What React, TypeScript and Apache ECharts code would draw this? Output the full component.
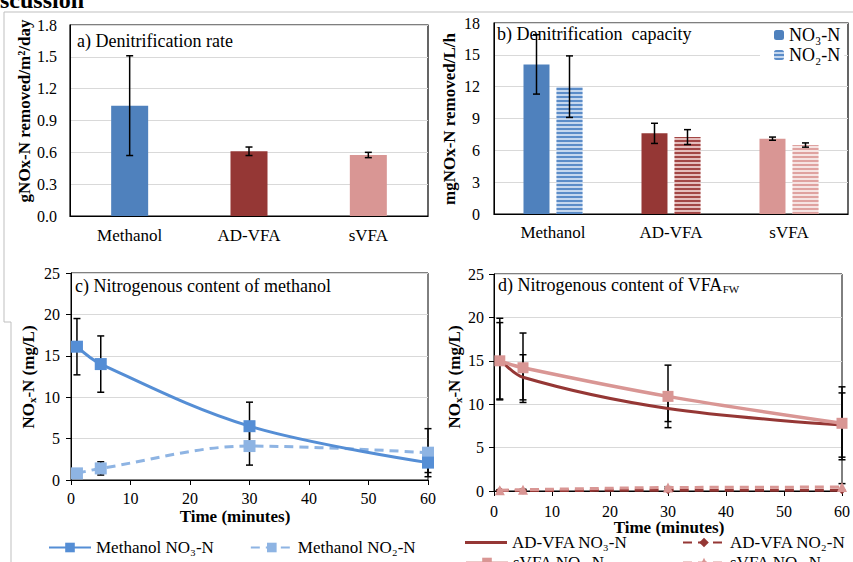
import React, { useEffect, useRef } from "react";
import * as echarts from "echarts";

// ---------- data ----------
const barCategories = ["Methanol", "AD-VFA", "sVFA"];
const barColors = ["#4F81BD", "#953735", "#D99694"];
const stripeBase = ["#C5D7EE", "#E4BDBC", "#F6E4E3"];
const stripeColors = ["#5B8CC8", "#A24645", "#DFA2A0"];

const rateValues = [1.04, 0.61, 0.575];
const rateErrors = [0.47, 0.04, 0.025];

const capNO3Values = [14.1, 7.6, 7.1];
const capNO3Errors = [2.8, 0.95, 0.15];
const capNO2Values = [12.0, 7.25, 6.5];
const capNO2Errors = [2.9, 0.7, 0.2];

const timePoints = [1, 5, 30, 60];
const methNO3 = [16.1, 14.0, 6.5, 2.1];
const methNO3Err = [3.4, 3.4, 2.9, 1.2];
const methNO2 = [0.8, 1.4, 4.1, 3.3];
const methNO2Err = [0.3, 0.8, 2.3, 2.9];

const adNO3 = [15.2, 13.1, 9.5, 7.6];
const adNO3Err = [4.7, 2.6, 1.5, 3.7];
const sNO3 = [15.0, 14.2, 10.9, 7.8];
const sNO3Err = [4.4, 4.0, 3.6, 4.2];
const adNO2 = [0.05, 0.05, 0.1, 0.1];
const sNO2 = [0.1, 0.15, 0.4, 0.45];
const sNO2Err = [0.05, 0.05, 0.1, 0.4];

const FONT = "'Liberation Serif', 'Times New Roman', serif";

const errData = (xs: number[], vals: number[], errs: number[]) =>
  vals.map((v, i) => [xs[i], v - errs[i], v + errs[i]]);

const errRender = (offset: number, cap: number) => (params: any, api: any) => {
  const x = api.value(0);
  const lo = api.coord([x, api.value(1)]);
  const hi = api.coord([x, api.value(2)]);
  const cx = lo[0] + offset;
  const style = { stroke: "#000", lineWidth: 1.5, fill: "none" };
  return {
    type: "group",
    children: [
      { type: "line", shape: { x1: cx, y1: lo[1], x2: cx, y2: hi[1] }, style },
      { type: "line", shape: { x1: cx - cap, y1: lo[1], x2: cx + cap, y2: lo[1] }, style },
      { type: "line", shape: { x1: cx - cap, y1: hi[1], x2: cx + cap, y2: hi[1] }, style },
    ],
  };
};

const stripeDecal = (color: string) => ({
  symbol: "rect",
  symbolSize: 1,
  dashArrayX: [1, 0],
  dashArrayY: [1.5, 1.5],
  rotation: 0,
  color,
});

const catX = (gi: number, margin: number) => ({
  type: "category",
  gridIndex: gi,
  data: barCategories,
  axisLine: { show: true, lineStyle: { color: "#000", width: 1 } },
  axisTick: { show: false },
  axisLabel: { color: "#000", fontSize: 17, fontFamily: FONT, margin },
});

const valX = (gi: number, margin: number) => ({
  type: "value",
  gridIndex: gi,
  min: 0,
  max: 60,
  interval: 10,
  axisLine: { show: true, lineStyle: { color: "#000", width: 1 } },
  axisTick: { show: true, length: 5, lineStyle: { color: "#000" } },
  splitLine: { show: false },
  axisLabel: { color: "#000", fontSize: 16, fontFamily: FONT, margin },
});

const valY = (gi: number, max: number, interval: number, margin: number, fontSize: number, ticks: boolean, fmt?: (v: number) => string) => ({
  type: "value",
  gridIndex: gi,
  min: 0,
  max,
  interval,
  axisLine: { show: true, lineStyle: { color: "#000", width: 1 } },
  axisTick: { show: ticks, length: 5, lineStyle: { color: "#000" } },
  splitLine: { show: true, lineStyle: { color: "#D9D9D9", width: 1 } },
  axisLabel: { color: "#000", fontSize, fontFamily: FONT, margin, formatter: fmt },
});

const legendText = (size: number) => ({ color: "#000", fontSize: size, fontFamily: FONT });

const oneLegend = (name: string, left: number, top: number, extra: any = {}) => ({
  data: [name],
  left,
  top,
  itemWidth: 42,
  itemHeight: 12,
  padding: 0,
  textStyle: legendText(17),
  ...extra,
});

const rotText = (x: number, y: number, text: string, rich?: any) => ({
  type: "text",
  x,
  y,
  rotation: Math.PI / 2,
  style: {
    text,
    fill: "#000",
    fontSize: 17,
    fontWeight: "bold",
    fontFamily: FONT,
    align: "center",
    verticalAlign: "middle",
    rich,
  },
});

const plainText = (x: number, y: number, text: string, size: number, bold = false, align = "left", rich?: any) => ({
  type: "text",
  x,
  y,
  style: {
    text,
    fill: "#000",
    fontSize: size,
    fontWeight: bold ? "bold" : "normal",
    fontFamily: FONT,
    align,
    verticalAlign: "middle",
    rich,
  },
});

const subRich = (size: number, bold: boolean) => ({
  n: { fontSize: size, fontWeight: bold ? "bold" : "normal", fontFamily: FONT, fill: "#000", lineHeight: 22, verticalAlign: "bottom" },
  s: { fontSize: Math.round(size * 0.62), fontWeight: bold ? "bold" : "normal", fontFamily: FONT, fill: "#000", lineHeight: 10, verticalAlign: "bottom" },
});

export default function App() {
  const ref = useRef<HTMLDivElement>(null);

  useEffect(() => {
    if (!ref.current) return;
    const chart = echarts.init(ref.current, null, { renderer: "svg" });

    const option: any = {
      animation: false,
      backgroundColor: "#fff",
      textStyle: { fontFamily: FONT },
      grid: [
        { left: 70, top: 25, width: 358, height: 191, show: true, borderColor: "#000", borderWidth: 1.2, backgroundColor: "transparent" },
        { left: 494, top: 23, width: 354, height: 191, show: true, borderColor: "#000", borderWidth: 1.2, backgroundColor: "transparent" },
        { left: 71, top: 273, width: 357, height: 207, show: true, borderColor: "#000", borderWidth: 1, backgroundColor: "transparent" },
        { left: 494, top: 274, width: 359, height: 217, show: true, borderColor: "#000", borderWidth: 1, backgroundColor: "transparent" },
      ],
      xAxis: [catX(0, 11), catX(1, 10), valX(2, 10), valX(3, 12)],
      yAxis: [
        valY(0, 1.8, 0.3, 13, 16, false, (v: number) => v.toFixed(1)),
        valY(1, 18, 3, 14, 16, false),
        valY(2, 25, 5, 11, 16, true),
        valY(3, 25, 5, 10, 16, true),
      ],
      legend: [
        {
          data: ["NO₃-N", "NO₂-N"],
          orient: "vertical",
          left: 760,
          top: 24,
          itemWidth: 10,
          itemHeight: 10,
          itemGap: 2,
          padding: [2, 4, 2, 14],
          backgroundColor: "#fff",
          textStyle: legendText(18),
        },
        {
          data: ["Methanol NO₃-N", "Methanol NO₂-N"],
          orient: "horizontal",
          left: 48,
          top: 539,
          itemWidth: 42,
          itemHeight: 12,
          itemGap: 36,
          padding: 0,
          textStyle: legendText(17),
        },
        oneLegend("AD-VFA NO₃-N", 465, 534, { icon: "rect", itemHeight: 3 }),
        oneLegend("AD-VFA NO₂-N", 682, 534),
        oneLegend("sVFA NO₃-N", 465, 554),
        oneLegend("sVFA NO₂-N", 682, 554),
      ],
      series: [
        // a) rate bars
        {
          type: "bar",
          name: "rate",
          xAxisIndex: 0,
          yAxisIndex: 0,
          barWidth: 37,
          data: rateValues.map((v, i) => ({ value: v, itemStyle: { color: barColors[i] } })),
        },
        {
          type: "custom",
          xAxisIndex: 0,
          yAxisIndex: 0,
          z: 5,
          renderItem: errRender(0, 3.5),
          encode: { x: 0, y: [1, 2] },
          data: errData([0, 1, 2], rateValues, rateErrors),
        },
        // b) capacity bars
        {
          type: "bar",
          name: "NO₃-N",
          xAxisIndex: 1,
          yAxisIndex: 1,
          barWidth: 26,
          barGap: "27%",
          itemStyle: { color: barColors[0] },
          data: capNO3Values.map((v, i) => ({ value: v, itemStyle: { color: barColors[i] } })),
        },
        {
          type: "bar",
          name: "NO₂-N",
          xAxisIndex: 1,
          yAxisIndex: 1,
          barWidth: 26,
          barGap: "27%",
          itemStyle: { color: stripeBase[0], decal: stripeDecal(stripeColors[0]) },
          data: capNO2Values.map((v, i) => ({
            value: v,
            itemStyle: { color: stripeBase[i], decal: stripeDecal(stripeColors[i]) },
          })),
        },
        {
          type: "custom",
          xAxisIndex: 1,
          yAxisIndex: 1,
          z: 5,
          renderItem: errRender(-16.5, 3.5),
          encode: { x: 0, y: [1, 2] },
          data: errData([0, 1, 2], capNO3Values, capNO3Errors),
        },
        {
          type: "custom",
          xAxisIndex: 1,
          yAxisIndex: 1,
          z: 5,
          renderItem: errRender(16.5, 3.5),
          encode: { x: 0, y: [1, 2] },
          data: errData([0, 1, 2], capNO2Values, capNO2Errors),
        },
        // c) methanol lines
        {
          type: "custom",
          xAxisIndex: 2,
          yAxisIndex: 2,
          z: 1,
          renderItem: errRender(0, 3.5),
          encode: { x: 0, y: [1, 2] },
          data: errData(timePoints, methNO3, methNO3Err),
        },
        {
          type: "custom",
          xAxisIndex: 2,
          yAxisIndex: 2,
          z: 1,
          renderItem: errRender(0, 3.5),
          encode: { x: 0, y: [1, 2] },
          data: errData(timePoints, methNO2, methNO2Err),
        },
        {
          type: "line",
          name: "Methanol NO₃-N",
          xAxisIndex: 2,
          yAxisIndex: 2,
          z: 3,
          smooth: 0.35,
          symbol: "rect",
          symbolSize: 12,
          lineStyle: { color: "#558ED5", width: 3 },
          itemStyle: { color: "#558ED5" },
          data: timePoints.map((t, i) => [t, methNO3[i]]),
        },
        {
          type: "line",
          name: "Methanol NO₂-N",
          xAxisIndex: 2,
          yAxisIndex: 2,
          z: 2,
          smooth: 0.35,
          symbol: "rect",
          symbolSize: 12,
          lineStyle: { color: "#8EB4E3", width: 3, type: [9, 6] },
          itemStyle: { color: "#8EB4E3" },
          data: timePoints.map((t, i) => [t, methNO2[i]]),
        },
        // d) VFA lines
        {
          type: "custom",
          xAxisIndex: 3,
          yAxisIndex: 3,
          z: 1,
          renderItem: errRender(0, 3.5),
          encode: { x: 0, y: [1, 2] },
          data: errData(timePoints, adNO3, adNO3Err),
        },
        {
          type: "custom",
          xAxisIndex: 3,
          yAxisIndex: 3,
          z: 1,
          renderItem: errRender(0, 3.5),
          encode: { x: 0, y: [1, 2] },
          data: errData(timePoints, sNO3, sNO3Err),
        },
        {
          type: "custom",
          xAxisIndex: 3,
          yAxisIndex: 3,
          z: 1,
          renderItem: errRender(0, 3.5),
          encode: { x: 0, y: [1, 2] },
          data: errData(timePoints, sNO2, sNO2Err),
        },
        {
          type: "line",
          name: "AD-VFA NO₃-N",
          xAxisIndex: 3,
          yAxisIndex: 3,
          z: 3,
          smooth: 0.35,
          symbol: "none",
          lineStyle: { color: "#953735", width: 3 },
          itemStyle: { color: "#953735" },
          data: timePoints.map((t, i) => [t, adNO3[i]]),
        },
        {
          type: "line",
          name: "AD-VFA NO₂-N",
          xAxisIndex: 3,
          yAxisIndex: 3,
          z: 2,
          smooth: 0.35,
          symbol: "diamond",
          symbolSize: 8,
          lineStyle: { color: "#953735", width: 3, type: [9, 6] },
          itemStyle: { color: "#953735" },
          data: timePoints.map((t, i) => [t, adNO2[i]]),
        },
        {
          type: "line",
          name: "sVFA NO₃-N",
          xAxisIndex: 3,
          yAxisIndex: 3,
          z: 4,
          smooth: 0.35,
          symbol: "rect",
          symbolSize: 11,
          lineStyle: { color: "#D99694", width: 3.5 },
          itemStyle: { color: "#D99694" },
          data: timePoints.map((t, i) => [t, sNO3[i]]),
        },
        {
          type: "line",
          name: "sVFA NO₂-N",
          xAxisIndex: 3,
          yAxisIndex: 3,
          z: 3,
          smooth: 0.35,
          symbol: "triangle",
          symbolSize: 10,
          lineStyle: { color: "#D99694", width: 3, type: [9, 6] },
          itemStyle: { color: "#D99694" },
          data: timePoints.map((t, i) => [t, sNO2[i]]),
        },
      ],
      graphic: [
        { type: "polyline", shape: { points: [[4, 12], [853, 12]] }, style: { stroke: "#BFBFBF", lineWidth: 1, fill: "none" } },
        { type: "polyline", shape: { points: [[4, 12], [4, 322], [11, 322], [11, 562]] }, style: { stroke: "#BFBFBF", lineWidth: 1, fill: "none" } },
        plainText(0, 0, "scussion", 24, true),
        plainText(77, 41, "a) Denitrification rate", 18),
        plainText(497, 34, "b) Denitrification  capacity", 18),
        plainText(75, 286, "c) Nitrogenous content of methanol", 18),
        plainText(498, 283, "{n|d) Nitrogenous content of VFA}{s|FW}", 18, false, "left", subRich(18, false)),
        rotText(24.5, 111, "gNOx-N removed/m²/day"),
        rotText(449.5, 119, "mgNOx-N removed/L/h"),
        rotText(26, 377, "{n|NO}{s|x}{n|-N (mg/L)}", subRich(17, true)),
        rotText(452, 377, "{n|NO}{s|x}{n|-N (mg/L)}", subRich(17, true)),
        plainText(235, 516, "Time (minutes)", 17, true, "center"),
        plainText(669, 527, "Time (minutes)", 17, true, "center"),
      ],
    };

    chart.setOption(option);
    return () => chart.dispose();
  }, []);

  return (
    <div
      ref={ref}
      style={{ position: "absolute", left: 0, top: 0, width: 853, height: 562, background: "#fff" }}
    />
  );
}
